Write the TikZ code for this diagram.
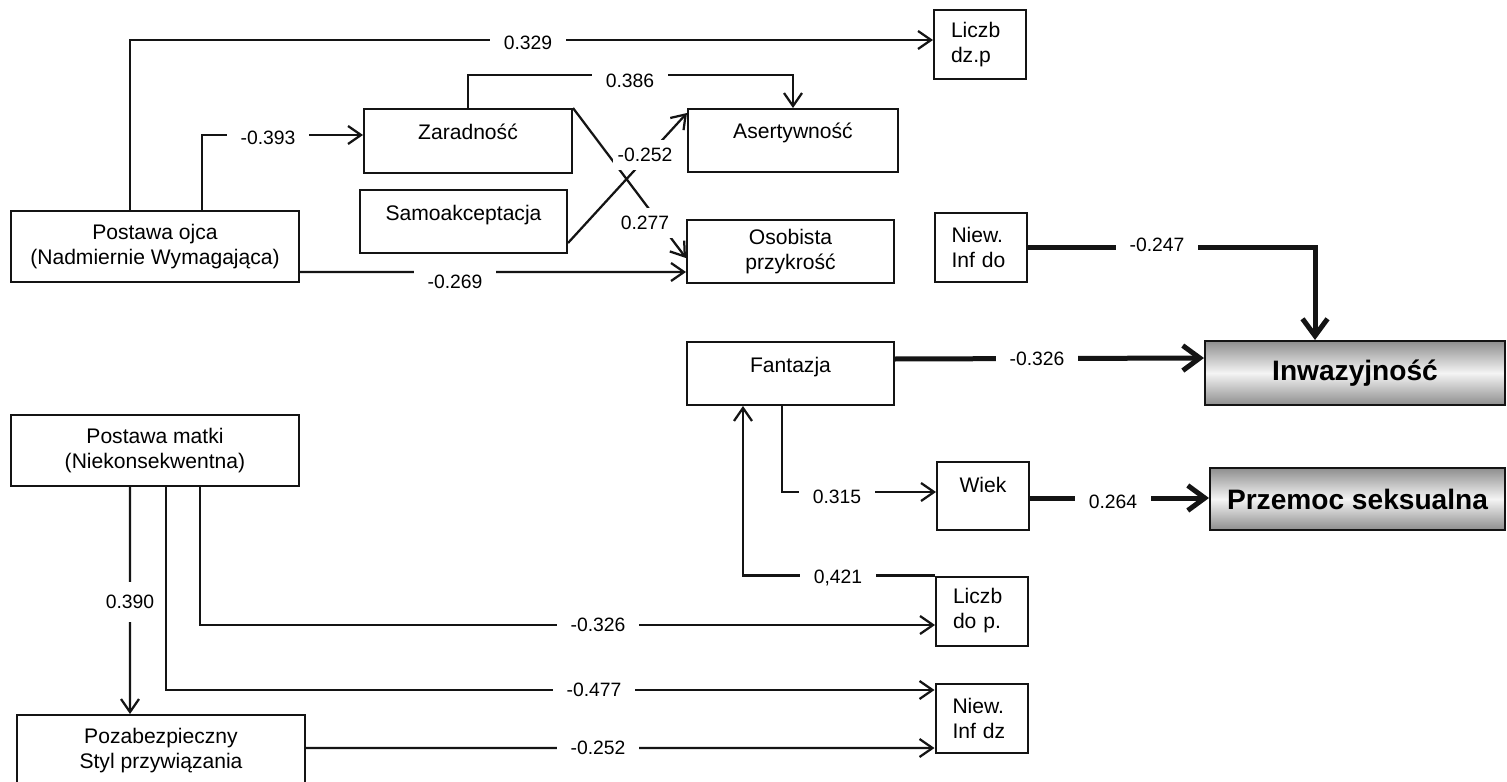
\documentclass[tikz,border=0pt]{standalone}
\usepackage{fontspec}
\setmainfont{Liberation Sans}
\usepackage{tikz}
\usetikzlibrary{arrows.meta}
\definecolor{pathInk}{HTML}{141414}
\definecolor{outShadeDark}{HTML}{8E8E8E}
\definecolor{outShadeLight}{HTML}{F4F4F4}
\tikzset{
  varbox/.style={rectangle, draw=pathInk, line width=0.4mm, align=center, font=\fontsize{12}{14.2}\selectfont, inner sep=1pt},
  raisedbox/.style={varbox, text height=3mm, text depth=3.6mm},
  smallbox/.style={varbox, align=left, text width=11.6mm, inner xsep=3.4mm, minimum width=18.4mm, minimum height=13.8mm},
  outbox/.style={rectangle, draw=pathInk, line width=0.4mm, top color=outShadeDark, bottom color=outShadeDark, middle color=outShadeLight, font=\fontsize{16}{19}\selectfont\bfseries},
  pathline/.style={-{Straight Barb[length=2.6mm,width=3.6mm]}, line width=0.45mm, draw=pathInk},
  thickline/.style={-{Straight Barb[length=3.4mm,width=5mm]}, line width=1mm, draw=pathInk},
  % --- path coefficients ---
  coeff/.style={fill=white, font=\fontsize{11}{13}\selectfont, inner xsep=2.8mm, inner ysep=0pt, minimum height=6mm},
}
\begin{document}
\begin{tikzpicture}[x=0.2mm,y=-0.2mm]
  \fill[white] (0,0) rectangle (1507,782);
  \useasboundingbox (0,0) rectangle (1507,782);

  \node[varbox, minimum width=57.6mm, minimum height=14.2mm] (ojca) at (155,246.5) {Postawa ojca\\(Nadmiernie Wymagająca)};
  \node[raisedbox, minimum width=41.6mm, minimum height=12.8mm] (zar) at (468,141) {Zaradność};
  \node[raisedbox, minimum width=41.4mm, minimum height=12.6mm] (samo) at (463.5,221.5) {Samoakceptacja};
  \node[raisedbox, minimum width=42mm, minimum height=12.6mm] (aser) at (793,140.5) {Asertywność};
  \node[varbox, minimum width=41.4mm, minimum height=12.6mm] (osob) at (790.5,251.5) {Osobista\\przykrość};
  \node[smallbox] (ldzp) at (980,44.5) {Liczb\\dz.p};
  \node[smallbox] (niewdo) at (980.5,247.5) {Niew.\\Inf do};
  \node[raisedbox, minimum width=41.4mm, minimum height=12.6mm] (fan) at (790.5,373.5) {Fantazja};
  \node[outbox, minimum width=60mm, minimum height=12.8mm] (inw) at (1355,373) {Inwazyjność};
  \node[outbox, minimum width=59mm, minimum height=12.4mm] (prz) at (1357.5,499) {Przemoc seksualna};
  \node[raisedbox, minimum width=18.4mm, minimum height=13.6mm, text depth=4.4mm] (wiek) at (983,496) {Wiek};
  \node[smallbox] (ldop) at (982,611) {Liczb\\do p.};
  \node[smallbox] (ndz) at (981.5,718) {Niew.\\Inf dz};
  \node[varbox, minimum width=57.6mm, minimum height=14.2mm] (matki) at (155,450.5) {Postawa matki\\(Niekonsekwentna)};
  \node[varbox, minimum width=57.6mm, minimum height=14.4mm] (poza) at (161,751) {Pozabezpieczny\\Styl przywiązania};

  % father paths
  \draw[pathline] ([xshift=-5mm]ojca.north) |- ([yshift=0.9mm]ldzp.west);
  \draw[pathline] ([xshift=9.4mm]ojca.north) |- ([yshift=1.2mm]zar.west);
  \draw[pathline] ([yshift=-5.1mm]ojca.east) -- ([yshift=-4.1mm]osob.west);
  \draw[pathline] (zar.north) -- ++(0,-33) -| (aser.north);
  \draw[pathline] (zar.north east) -- ([yshift=-1.3mm]osob.west);
  \draw[pathline] ([yshift=-4.3mm]samo.east) -- ([yshift=5.5mm]aser.west);

  % to the outcomes
  \draw[thickline] (niewdo.east) -| ([xshift=-8mm]inw.north);
  \draw[thickline] ([yshift=2.9mm]fan.east) -- ([yshift=3mm]inw.west);
  \draw[pathline] ([xshift=-1.7mm]fan.south) |- ([yshift=0.8mm]wiek.west);
  \draw[thickline] ([yshift=-0.4mm]wiek.east) -- ([yshift=0.2mm]prz.west);
  \draw[pathline] (ldop.north west) -| ([xshift=-9.5mm]fan.south);

  % mother paths
  \draw[pathline] ([xshift=-5mm]matki.south) -- ([xshift=-6.2mm]poza.north);
  \draw[pathline] ([xshift=2.2mm]matki.south) |- ([yshift=5.6mm]ndz.west);
  \draw[pathline] ([xshift=9mm]matki.south) |- ([yshift=-2.8mm]ldop.west);
  \draw[pathline] ([yshift=0.6mm]poza.east) -- ([yshift=-6mm]ndz.west);

  % coefficients
  \node[coeff] (c329) at (528,43) {0.329};
  \node[coeff] (c393) at (268,138) {-0.393};
  \node[coeff] (c386) at (630,81) {0.386};
  \node[coeff, inner xsep=1mm] (c252a) at (645,155) {-0.252};
  \node[coeff, inner xsep=1mm] (c277) at (645,223) {0.277};
  \node[coeff] (c269) at (455,282) {-0.269};
  \node[coeff] (c247) at (1157,245) {-0.247};
  \node[coeff] (c326a) at (1037,359) {-0.326};
  \node[coeff] (c315) at (837,497) {0.315};
  \node[coeff] (c264) at (1113,502) {0.264};
  \node[coeff] (c421) at (838,578) {0,421};
  \node[coeff] (c326b) at (598,625) {-0.326};
  \node[coeff] (c477) at (594,690) {-0.477};
  \node[coeff] (c252b) at (598,748) {-0.252};
  \node[coeff, inner xsep=1pt, minimum height=8mm] (c390) at (130,602) {0.390};
\end{tikzpicture}
\end{document}
